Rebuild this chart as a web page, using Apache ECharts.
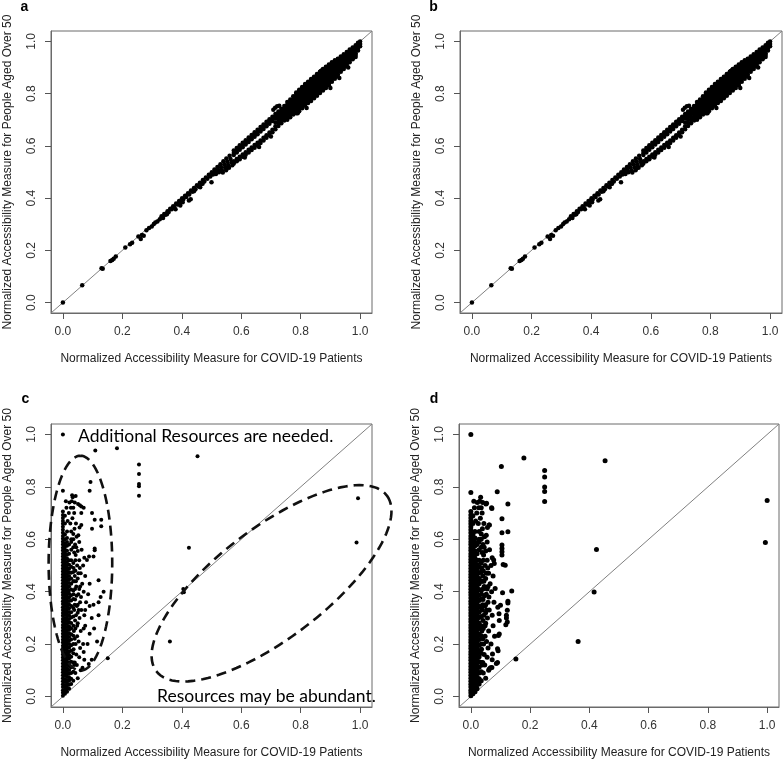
<!DOCTYPE html>
<html><head><meta charset="utf-8">
<script src="https://cdn.jsdelivr.net/npm/echarts@6/dist/echarts.min.js"></script>
<style>html,body{margin:0;padding:0;background:#fff}#chart{width:784px;height:759px}</style>
</head><body><div id="chart"></div>
<script>
// ---------- texts / ticks ----------
const tickValues = [0, 0.2, 0.4, 0.6, 0.8, 1.0];
const xTitle = 'Normalized Accessibility Measure for COVID-19 Patients';
const yTitle = 'Normalized Accessibility Measure for People Aged Over 50';
const panelLetters = ['a', 'b', 'c', 'd'];
const noteNeeded = 'Additional Resources are needed.';
const noteAbundant = 'Resources may be abundant.';
const axisRange = [-0.04, 1.04];
const diagLine = [[-0.04, -0.04], [1.04, 1.04]];

// ---------- panels a & b : band along the diagonal ----------
const bandPairs = [
 [0,0],[0.065,0.066],[0.13,0.131],[0.134,0.129],[0.16,0.159],[0.166,0.163],[0.171,0.168],[0.178,0.176],
 [0.21,0.211],[0.226,0.223],[0.233,0.229],[0.254,0.253],[0.262,0.243],[0.266,0.259],[0.272,0.256],
 [0.281,0.277],[0.29,0.286],[0.299,0.291],[0.306,0.301],[0.311,0.307],[0.318,0.31],[0.326,0.319],
 [0.35,0.338],[0.379,0.357],[0.424,0.391],[0.43,0.396],[0.462,0.442],[0.5,0.461],[0.441,0.426],
 [0.47,0.455],[0.337,0.324],[0.395,0.372],[0.403,0.384],
 [0.332,0.331],[0.336,0.328],[0.341,0.339],[0.345,0.336],[0.352,0.35],[0.356,0.347],[0.361,0.359],
 [0.366,0.357],[0.371,0.369],[0.375,0.366],[0.381,0.379],[0.386,0.376],[0.391,0.389],[0.395,0.385],
 [0.401,0.399],[0.405,0.395],[0.411,0.409],[0.415,0.404],[0.421,0.419],[0.425,0.414],[0.431,0.429],
 [0.435,0.424],[0.441,0.439],[0.446,0.434],[0.451,0.449],[0.456,0.444],[0.461,0.459],[0.466,0.454],
 [0.471,0.469],[0.476,0.464],[0.481,0.479],[0.486,0.474],[0.491,0.489],[0.496,0.483],[0.501,0.499],
 [0.505,0.49],
 [0.51,0.51],[0.512,0.5],[0.515,0.492],[0.52,0.519],[0.522,0.508],[0.525,0.499],[0.53,0.53],
 [0.532,0.518],[0.535,0.507],[0.538,0.498],[0.54,0.541],[0.543,0.529],[0.546,0.517],[0.549,0.507],
 [0.55,0.552],[0.553,0.539],[0.556,0.527],[0.559,0.516],[0.561,0.562],[0.564,0.55],[0.567,0.537],
 [0.57,0.526],[0.552,0.515],[0.612,0.556],[0.66,0.596],[0.7,0.636],
 [0.708,0.738],[0.714,0.746],[0.721,0.752],[0.728,0.754],[0.868,0.887],[0.873,0.891],
 [0.9,0.822],[0.93,0.86],[0.96,0.9],[0.985,0.94],[0.82,0.745],[0.79,0.725]
];
const bandCols = [
 [0.575,[0.582,0.573,0.565,0.541,0.533]],[0.585,[0.592,0.583,0.575,0.55,0.541]],
 [0.595,[0.602,0.593,0.585,0.558,0.549]],[0.605,[0.612,0.603,0.595,0.567,0.558]],
 [0.615,[0.622,0.613,0.605,0.576,0.566]],[0.625,[0.632,0.623,0.615,0.585,0.575]],
 [0.635,[0.642,0.633,0.625,0.594,0.584]],[0.645,[0.652,0.643,0.635,0.603,0.593]],
 [0.655,[0.662,0.653,0.645,0.612,0.602]],[0.665,[0.672,0.663,0.655,0.621,0.611]],
 [0.675,[0.682,0.673,0.665,0.631,0.621]],[0.685,[0.692,0.683,0.675,0.641,0.631]],
 [0.695,[0.702,0.693,0.685,0.651,0.641]],[0.705,[0.712,0.703,0.695,0.662,0.652]],
 [0.715,[0.722,0.713,0.705,0.69,0.675,0.664]],[0.725,[0.732,0.723,0.713,0.7,0.688,0.676]],
 [0.735,[0.742,0.732,0.722,0.711,0.699,0.687]],[0.745,[0.753,0.742,0.732,0.721,0.709,0.697]],
 [0.755,[0.768,0.758,0.748,0.738,0.728,0.718,0.708,0.7]],
 [0.765,[0.778,0.768,0.758,0.748,0.738,0.728,0.718,0.71]],
 [0.775,[0.79,0.78,0.77,0.76,0.75,0.74,0.73,0.72]],
 [0.785,[0.804,0.8,0.79,0.78,0.77,0.76,0.75,0.74,0.73,0.725]],
 [0.795,[0.815,0.81,0.8,0.79,0.78,0.77,0.76,0.75,0.74,0.733]],
 [0.805,[0.826,0.822,0.812,0.802,0.792,0.782,0.772,0.762,0.752,0.744]],
 [0.815,[0.837,0.832,0.822,0.812,0.802,0.792,0.782,0.772,0.762,0.754]],
 [0.825,[0.846,0.842,0.832,0.822,0.812,0.802,0.792,0.782,0.772,0.764]],
 [0.835,[0.856,0.85,0.84,0.83,0.82,0.81,0.8,0.79,0.78,0.772]],
 [0.845,[0.865,0.86,0.85,0.84,0.83,0.82,0.81,0.8,0.79,0.782]],
 [0.855,[0.875,0.872,0.862,0.852,0.842,0.832,0.822,0.812,0.802,0.792]],
 [0.865,[0.884,0.882,0.872,0.862,0.852,0.842,0.832,0.822,0.812,0.803]],
 [0.875,[0.894,0.89,0.88,0.87,0.86,0.85,0.84,0.83,0.82,0.812]],
 [0.885,[0.903,0.9,0.89,0.88,0.87,0.86,0.85,0.84,0.83,0.822]],
 [0.895,[0.912,0.908,0.898,0.888,0.878,0.868,0.858,0.848,0.838,0.832]],
 [0.905,[0.92,0.916,0.906,0.896,0.886,0.876,0.866,0.856,0.846]],
 [0.915,[0.928,0.925,0.915,0.905,0.895,0.885,0.875,0.865,0.857]],
 [0.925,[0.934,0.924,0.914,0.904,0.894,0.884,0.874,0.867]],
 [0.935,[0.942,0.932,0.922,0.912,0.902,0.892,0.884]],
 [0.945,[0.951,0.941,0.931,0.921,0.911,0.901,0.894]],
 [0.955,[0.96,0.95,0.94,0.93,0.92,0.912,0.905]],
 [0.965,[0.969,0.959,0.949,0.939,0.929,0.92]],
 [0.975,[0.977,0.967,0.957,0.947,0.937,0.932]],
 [0.985,[0.985,0.975,0.965,0.955,0.948]],
 [0.993,[0.995,0.985,0.975,0.965]],
 [1.0,[1.0,0.99,0.982]]
];

// ---------- panels c & d : column near x = 0 ----------
const coreCols = [
 [0.0,[0.003,0.014,0.024,0.036,0.047,0.058,0.07,0.081,0.093,0.103,0.115,0.126,0.138,0.149,0.16,0.171,0.183,0.194,0.206,0.217,0.228,0.24,0.251,0.262,0.273,0.285,0.296,0.308,0.319,0.33,0.341,0.353,0.364,0.376,0.387,0.398,0.409,0.421,0.432,0.444,0.455,0.466,0.477,0.489,0.5,0.512,0.523,0.534,0.545,0.557,0.568,0.58,0.591,0.602,0.613,0.625,0.636,0.648,0.659,0.67,0.681,0.693,0.706]],
 [0.007,[0.011,0.022,0.035,0.044,0.057,0.066,0.079,0.09,0.1,0.112,0.121,0.133,0.144,0.156,0.165,0.178,0.189,0.199,0.211,0.222,0.234,0.243,0.256,0.266,0.279,0.29,0.3,0.312,0.323,0.334,0.346,0.357,0.368,0.379,0.39,0.402,0.413,0.424,0.436,0.447,0.458,0.47,0.481,0.492,0.503,0.515,0.526,0.537,0.549,0.56,0.572,0.585,0.6,0.618,0.66,0.69]],
 [0.014,[0.018,0.03,0.041,0.052,0.063,0.075,0.086,0.097,0.108,0.12,0.131,0.142,0.153,0.164,0.176,0.187,0.198,0.209,0.22,0.232,0.243,0.254,0.265,0.277,0.288,0.299,0.31,0.322,0.333,0.344,0.355,0.366,0.378,0.389,0.4,0.411,0.423,0.434,0.445,0.456,0.468,0.479,0.49,0.502,0.513,0.527,0.541,0.556,0.575,0.59,0.605,0.63]],
 [0.021,[0.03,0.045,0.06,0.074,0.088,0.101,0.116,0.13,0.145,0.158,0.171,0.186,0.2,0.213,0.227,0.241,0.255,0.268,0.283,0.296,0.31,0.323,0.337,0.351,0.365,0.378,0.392,0.406,0.42,0.433,0.447,0.46,0.474,0.488,0.503,0.52,0.545,0.58]],
 [0.028,[0.048,0.068,0.09,0.112,0.133,0.152,0.175,0.196,0.218,0.238,0.26,0.281,0.302,0.322,0.345,0.366,0.386,0.408,0.43,0.45,0.472,0.495,0.52,0.56,0.59,0.6]],
 [0.035,[0.06,0.095,0.13,0.165,0.2,0.232,0.27,0.305,0.338,0.372,0.405,0.44,0.475,0.51,0.57,0.6]]
];
const colFringe = [
 [0.042,0.09],[0.04,0.13],[0.045,0.16],[0.043,0.2],[0.048,0.23],[0.042,0.26],[0.05,0.28],[0.044,0.31],
 [0.047,0.345],[0.041,0.37],[0.052,0.39],[0.045,0.42],[0.05,0.45],[0.042,0.48],[0.048,0.5],[0.043,0.54],
 [0.041,0.58],[0.046,0.61],[0.039,0.64],[0.044,0.66],[0.038,0.7],[0.035,0.72],[0.03,0.745],[0.04,0.74],
 [0.051,0.735],[0.058,0.185],[0.06,0.25],[0.056,0.3],[0.062,0.33],[0.058,0.36],[0.065,0.43],[0.06,0.47],
 [0.055,0.52],[0.063,0.56],[0.055,0.59],[0.052,0.615],[0.056,0.645],[0.062,0.655],[0.07,0.72],[0.066,0.11],
 [0.072,0.14],[0.05,0.07],[0.06,0.1],[0.068,0.2],[0.075,0.27],[0.072,0.31],[0.078,0.36],[0.07,0.4],
 [0.075,0.46],[0.068,0.5],[0.072,0.53],[0.033,0.76],[0.01,0.745],[0.02,0.7],[0.025,0.66],[0.016,0.67],
 [0.028,0.63],[0.035,0.62],
 [0.038,0.12],[0.036,0.18],[0.04,0.22],[0.037,0.25],[0.041,0.29],[0.038,0.33],[0.04,0.35],[0.036,0.39],
 [0.041,0.41],[0.038,0.44],[0.04,0.46],[0.036,0.49],[0.042,0.52],[0.038,0.55],[0.045,0.57],[0.05,0.555],
 [0.053,0.33],[0.05,0.32],[0.055,0.41],[0.052,0.47],[0.048,0.27],[0.053,0.21],[0.047,0.12],[0.055,0.15],
 [0.058,0.42],[0.061,0.38],[0.057,0.49],[0.046,0.385],[0.05,0.35],[0.044,0.44],[0.032,0.68],[0.027,0.72],
 [0.012,0.72],[0.022,0.74]
];
const outliersC = [
 [0,1.0],[0,0.785],[0.109,0.939],[0.182,0.947],[0.453,0.917],[0.256,0.885],[0.256,0.849],[0.256,0.811],
 [0.256,0.802],[0.256,0.766],[0.093,0.819],[0.09,0.785],[0.993,0.757],[0.988,0.588],[0.424,0.568],
 [0.405,0.41],[0.407,0.398],[0.36,0.21],[0.151,0.146],[0.031,0.768],[0.043,0.765],[0.057,0.73],
 [0.062,0.725],[0.062,0.7],[0.098,0.7],[0.107,0.675],[0.129,0.675],[0.098,0.64],[0.129,0.65],
 [0.088,0.534],[0.103,0.534],[0.081,0.521],[0.107,0.565],[0.107,0.558],[0.12,0.444],[0.137,0.4],
 [0.127,0.38],[0.12,0.36],[0.103,0.35],[0.09,0.345],[0.097,0.3],[0.12,0.31],[0.09,0.24],[0.07,0.26],
 [0.07,0.17],[0.097,0.14],[0.087,0.124],[0.115,0.21],[0.105,0.26],[0.083,0.2],[0.075,0.33],[0.085,0.39],
 [0.09,0.43]
];
const outliersD = [
 [0,1.0],[0,0.779],[0.089,0.781],[0.103,0.878],[0.179,0.91],[0.453,0.9],[0.249,0.863],[0.249,0.838],
 [0.249,0.8],[0.249,0.782],[0.249,0.744],[0.424,0.561],[0.416,0.399],[0.362,0.21],[0.152,0.143],
 [0.994,0.588],[1.0,0.748],[0.125,0.735],[0.125,0.629],[0.105,0.678],[0.105,0.625],[0.105,0.578],
 [0.105,0.565],[0.105,0.552],[0.105,0.54],[0.109,0.504],[0.116,0.501],[0.077,0.521],[0.079,0.508],
 [0.138,0.403],[0.107,0.396],[0.125,0.364],[0.125,0.357],[0.12,0.31],[0.12,0.3],[0.118,0.274],
 [0.096,0.29],[0.082,0.412],[0.091,0.341],[0.096,0.239],[0.093,0.233],[0.09,0.182],[0.09,0.13],
 [0.071,0.111],[0.062,0.105],[0.073,0.162],[0.053,0.738],[0.071,0.718],[0.062,0.655],[0.1,0.348],
 [0.123,0.329],[0.123,0.284],[0.095,0.316],[0.092,0.175],[0.086,0.126],[0.08,0.23]
];
// dashed annotation ellipses of panel c: [centerX, centerY, axis1X, axis1Y, axis2X, axis2Y] (data units)
const ellipsesC = [
 [0.059, 0.509, 0, 0.41, 0.107, 0],
 [0.702, 0.432, 0.388, 0.335, 0.111, -0.168]
];

// ---------- build tables ----------
function expandCols(cols) { const out = []; cols.forEach(c => c[1].forEach(y => out.push([c[0], y]))); return out; }
const bandData = bandPairs.concat(expandCols(bandCols));
const colData = expandCols(coreCols).concat(colFringe);
const dataC = colData.concat(outliersC);
const dataD = colData.concat(outliersD);

const FONT = '"Liberation Sans", Arial, Helvetica, sans-serif';
const grids = [
 {left: 51, top: 31, width: 321, height: 282},
 {left: 460, top: 31, width: 322, height: 282},
 {left: 51, top: 424, width: 321, height: 283},
 {left: 459, top: 424, width: 320, height: 283}
].map(g => Object.assign(g, {show: true, borderColor: '#6a6a6a', borderWidth: 1, backgroundColor: 'transparent', containLabel: false, outerBoundsMode: 'none'}));

function mkAxis(i, isY) {
  return {
    type: 'value', gridIndex: i, min: axisRange[0], max: axisRange[1],
    name: isY ? yTitle : xTitle, nameLocation: 'middle', nameGap: isY ? 37 : 40,
    nameTextStyle: {fontFamily: FONT, fontSize: 12, color: '#222'},
    axisLine: {show: true, onZero: false, lineStyle: {color: '#6a6a6a', width: 1}},
    axisTick: {show: true, inside: false, length: 6, customValues: tickValues, lineStyle: {color: '#555', width: 1}},
    axisLabel: {show: true, customValues: tickValues, margin: 13, rotate: isY ? 90 : 0,
      formatter: v => Number(v).toFixed(1), fontFamily: FONT, fontSize: 12, color: '#333'},
    splitLine: {show: false}, splitArea: {show: false}
  };
}
const xAxes = [0,1,2,3].map(i => mkAxis(i, false));
const yAxes = [0,1,2,3].map(i => mkAxis(i, true));

function diag(i) {
  return {type: 'line', xAxisIndex: i, yAxisIndex: i, data: diagLine, symbol: 'none', silent: true,
    lineStyle: {color: '#808080', width: 1}, z: 1, animation: false};
}
function pts(i, data, size) {
  return {type: 'scatter', xAxisIndex: i, yAxisIndex: i, data: data, symbol: 'circle', symbolSize: size,
    itemStyle: {color: '#000', opacity: 1}, z: 2, silent: true, animation: false};
}
const ellipseSeries = {
  type: 'custom', xAxisIndex: 2, yAxisIndex: 2, data: ellipsesC, clip: false, silent: true, z: 3,
  renderItem: function (params, api) {
    const cx = api.value(0), cy = api.value(1), ux = api.value(2), uy = api.value(3), vx = api.value(4), vy = api.value(5);
    const p = [];
    for (let k = 0; k <= 120; k++) {
      const t = k / 120 * Math.PI * 2;
      p.push(api.coord([cx + ux * Math.cos(t) + vx * Math.sin(t), cy + uy * Math.cos(t) + vy * Math.sin(t)]));
    }
    return {type: 'polyline', shape: {points: p}, style: {fill: null, stroke: '#111', lineWidth: 2.6, lineDash: [10, 6]}};
  }
};

const letterPos = [[24.5, 6.8], [433.5, 6.8], [25.5, 399.2], [434, 399.2]];
const graphics = panelLetters.map((t, i) => ({
  type: 'text', x: letterPos[i][0], y: letterPos[i][1], silent: true,
  style: {text: t, font: 'bold 14px ' + FONT, fill: '#000', align: 'center', verticalAlign: 'middle', textAlign: 'center', textVerticalAlign: 'middle'}
}));
graphics.push({type: 'text', x: 78, y: 436, silent: true, z: 10,
  style: {text: noteNeeded, font: '17.5px Lato, "Open Sans", sans-serif', fill: '#000', align: 'left', verticalAlign: 'middle', textAlign: 'left', textVerticalAlign: 'middle'}});
graphics.push({type: 'text', x: 157, y: 696, silent: true, z: 10,
  style: {text: noteAbundant, font: '17.5px Lato, "Open Sans", sans-serif', fill: '#000', align: 'left', verticalAlign: 'middle', textAlign: 'left', textVerticalAlign: 'middle'}});

const chart = echarts.init(document.getElementById('chart'), null, {renderer: 'canvas'});
chart.setOption({
  animation: false,
  backgroundColor: '#fff',
  grid: grids,
  xAxis: xAxes,
  yAxis: yAxes,
  series: [
    diag(0), pts(0, bandData, 4.5),
    diag(1), pts(1, bandData, 4.5),
    diag(2), pts(2, dataC, 4), ellipseSeries,
    diag(3), pts(3, dataD, 5)
  ],
  graphic: graphics
});
</script>
</body></html>
